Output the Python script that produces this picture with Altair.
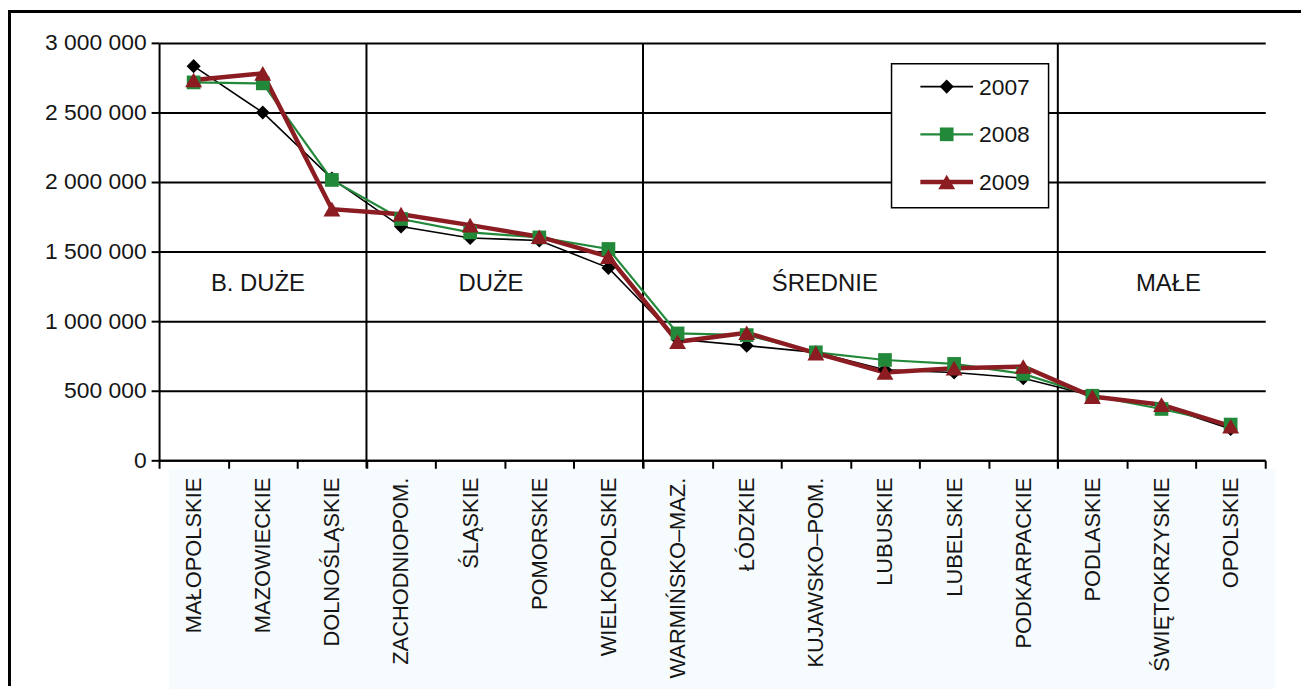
import altair as alt
import pandas as pd

categories = ["MAŁOPOLSKIE", "MAZOWIECKIE", "DOLNOŚLĄSKIE", "ZACHODNIOPOM.", "ŚLĄSKIE",
              "POMORSKIE", "WIELKOPOLSKIE", "WARMIŃSKO–MAZ.", "ŁÓDZKIE", "KUJAWSKO–POM.",
              "LUBUSKIE", "LUBELSKIE", "PODKARPACKIE", "PODLASKIE", "ŚWIĘTOKRZYSKIE", "OPOLSKIE"]
v2007 = [2833000, 2500000, 2025000, 1680000, 1598000, 1580000, 1383000, 870000,
         824000, 776000, 650000, 631000, 590000, 464000, 390000, 225000]
v2008 = [2716000, 2709000, 2015000, 1734000, 1638000, 1602000, 1519000, 912000,
         900000, 776000, 721000, 693000, 621000, 464000, 369000, 257000]
v2009 = [2733000, 2781000, 1805000, 1769000, 1690000, 1607000, 1464000, 852000,
         917000, 770000, 631000, 662000, 674000, 458000, 400000, 245000]
years = ["2007", "2008", "2009"]
colors = ["#000000", "#23893a", "#8b1c22"]
group_labels = ["B. DUŻE", "DUŻE", "ŚREDNIE", "MAŁE"]
group_anchor = ["MAZOWIECKIE", "ŚLĄSKIE", "KUJAWSKO–POM.", "ŚWIĘTOKRZYSKIE"]
group_starts = ["ZACHODNIOPOM.", "WARMIŃSKO–MAZ.", "PODLASKIE"]
y_ticks = [0, 500000, 1000000, 1500000, 2000000, 2500000, 3000000]
label_value = 1270000

rows = []
for yr, vals in zip(years, [v2007, v2008, v2009]):
    for c, v in zip(categories, vals):
        rows.append({"cat": c, "year": yr, "value": v})
df = pd.DataFrame(rows)

FONT = "Liberation Sans"
W, H = 1113, 420
line_widths = [1.6, 2.2, 4.5]
shapes = ["diamond", "square", "triangle-up"]
sizes = [200, 190, 290]

xscale = alt.Scale(domain=categories, paddingInner=0, paddingOuter=0)
yscale = alt.Scale(domain=[0, 3000000], nice=False)

x_axis = alt.Axis(title=None, labelAngle=270, labelAlign="right", labelBaseline="middle",
                  labelFontSize=22, labelFont=FONT, labelColor="#151515", labelPadding=9,
                  labelLimit=400,
                  tickBand="extent", tickColor="black", tickWidth=2, tickSize=8,
                  domainColor="black", domainWidth=2, grid=False, labelOverlap=False,
                  zindex=1)
y_axis = alt.Axis(title=None, values=y_ticks, grid=True, gridColor="black", gridWidth=2,
                  domainColor="black", domainWidth=2, tickColor="black", tickWidth=2,
                  tickSize=8, labelFontSize=23, labelFont=FONT, labelColor="#151515",
                  labelPadding=5,
                  labelExpr="replace(replace(format(datum.value, ','), ',', ' '), ',', ' ')")


def X(bp=None):
    if bp is None:
        return alt.X("cat:N", sort=categories, scale=xscale, axis=x_axis)
    return alt.X("cat:N", sort=categories, scale=xscale, axis=x_axis, bandPosition=bp)


def Y():
    return alt.Y("value:Q", scale=yscale, axis=y_axis)


one = pd.DataFrame({"k": [0]})

# light background behind category labels
label_bg = alt.Chart(one).mark_rect(color="#f6fbfd").encode(
    x=alt.value(10), x2=alt.value(1123), y=alt.value(429), y2=alt.value(650))

# outer frame (left & top)
frame_left = alt.Chart(one).mark_rule(color="black", strokeWidth=3).encode(
    x=alt.value(-150.5), y=alt.value(-31.5), y2=alt.value(647))
frame_top = alt.Chart(one).mark_rule(color="black", strokeWidth=3).encode(
    x=alt.value(-152), x2=alt.value(1149), y=alt.value(-31.5))

axes = alt.Chart(df).mark_point(opacity=0).encode(x=X(), y=Y())

sep_df = pd.DataFrame({"cat": group_starts})
separators = alt.Chart(sep_df).mark_rule(color="black", strokeWidth=2).encode(
    x=X(0), y=alt.value(0), y2=alt.value(H + 8))

grp_df = pd.DataFrame({"label": group_labels, "cat": group_anchor,
                       "value": [label_value] * 4})
group_text_layers = []
band_pos = [0.43, 0.8, 0.63, 0.6]
for i, lab in enumerate(group_labels):
    group_text_layers.append(
        alt.Chart(grp_df.iloc[[i]]).mark_text(fontSize=24, font=FONT, color="#151515",
                                              baseline="middle", align="center").encode(
            x=X(band_pos[i]), y=Y(), text="label:N"))

series_layers = []
for i, yr in enumerate(years):
    sdf = df[df["year"] == yr]
    series_layers.append(alt.Chart(sdf).mark_line(color=colors[i], strokeWidth=line_widths[i])
                         .encode(x=X(), y=Y()))
for i, yr in enumerate(years):
    sdf = df[df["year"] == yr]
    series_layers.append(alt.Chart(sdf).mark_point(filled=True, opacity=1, color=colors[i],
                                                   shape=shapes[i], size=sizes[i])
                         .encode(x=X(), y=Y()))

# hand-built legend box (top right)
leg_layers = [alt.Chart(one).mark_rect(fill="white", stroke="black", strokeWidth=1.5).encode(
    x=alt.value(737), x2=alt.value(895), y=alt.value(21), y2=alt.value(166))]
for i, yr in enumerate(years):
    ly = 44 + 48 * i
    ldf = pd.DataFrame({"year": [yr]})
    leg_layers.append(alt.Chart(ldf).mark_rule(color=colors[i], strokeWidth=line_widths[i]).encode(
        x=alt.value(766), x2=alt.value(819), y=alt.value(ly)))
    leg_layers.append(alt.Chart(ldf).mark_point(filled=True, opacity=1, color=colors[i],
                                                shape=shapes[i], size=sizes[i]).encode(
        x=alt.value(792.5), y=alt.value(ly)))
    leg_layers.append(alt.Chart(ldf).mark_text(fontSize=23, font=FONT, color="#151515",
                                               align="left", baseline="middle").encode(
        x=alt.value(825), y=alt.value(ly + 1), text="year:N"))

chart = alt.layer(label_bg, frame_left, frame_top, axes, separators, *group_text_layers,
                  *series_layers, *leg_layers).properties(
    width=W, height=H,
    autosize=alt.AutoSizeParams(type="none"),
    padding={"left": 152, "top": 33, "right": 36, "bottom": 228},
    background="white",
).configure_view(stroke=None)

chart.save("out.html", embed_options={"renderer": "svg", "actions": False})
